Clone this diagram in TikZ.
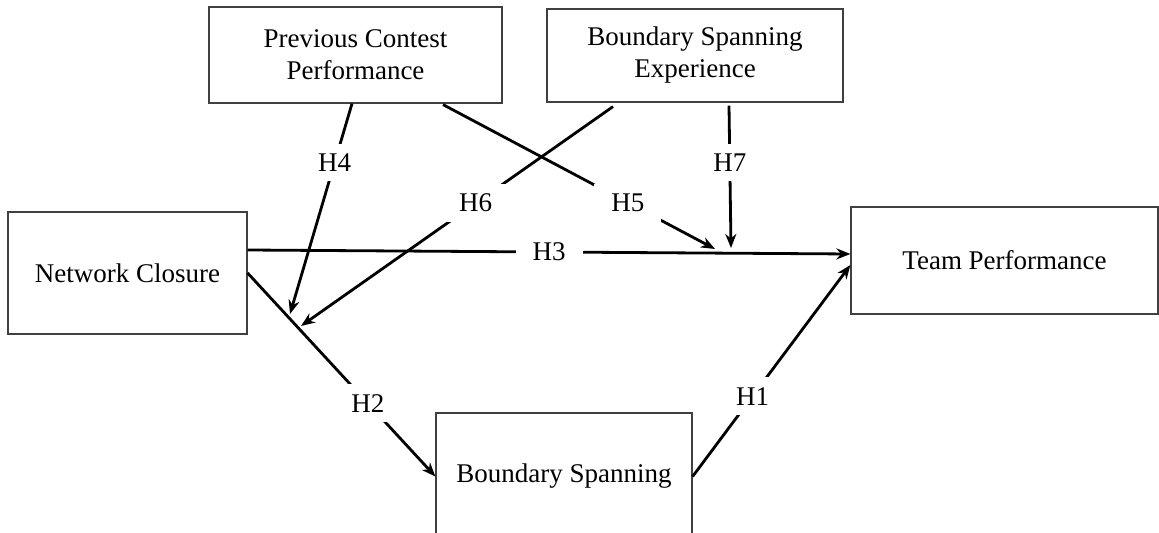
\documentclass[tikz,border=0pt]{standalone}
\usepackage{fontspec}
\setmainfont{Liberation Serif}
\usetikzlibrary{arrows.meta,calc}

\begin{document}
\begin{tikzpicture}[
    x=0.5pt, y=-0.5pt,
    box/.style={rectangle, draw=black!75, line width=0.6pt, fill=white, inner sep=0pt, align=center, font=\fontsize{13.5}{16}\selectfont},
    hyp/.style={rectangle, fill=white, inner xsep=8.5pt, inner ysep=5pt, font=\fontsize{13.5}{16}\selectfont},
    arrow/.style={-{Stealth[length=7pt,width=5.5pt]}, line width=1.4pt, black}
]
\useasboundingbox (0,0) rectangle (1159,533);
\clip (0,0) rectangle (1159,533);

% Moderators
\node[box, minimum width=146.5pt, minimum height=48pt] (pcp) at (355.5,55) {Previous Contest\\Performance};
\node[box, minimum width=148pt, minimum height=46.5pt] (bse) at (695,55.5) {Boundary Spanning\\Experience};

% Main constructs
\node[box, minimum width=119.5pt, minimum height=61pt] (nc) at (127.5,273) {Network Closure};
\node[box, minimum width=153.5pt, minimum height=53.5pt] (tp) at (1004.5,260.5) {Team Performance};
\node[box, minimum width=128pt, minimum height=63.5pt] (bs) at (564,476.5) {Boundary Spanning};

% Where the moderating arrows land
\coordinate (h4end) at (290,314);
\coordinate (h6end) at (301,326);
\coordinate (h5end) at (715,249);
\coordinate (h7end) at (731,248);

% Direct paths
\draw[arrow] ($(nc.east)+(0,-23)$) -- node[hyp] {H3} ($(tp.west)+(0,-6.5)$);
\draw[arrow] (nc.east) -- node[hyp, pos=0.64] {H2} (bs.west);
\draw[arrow] (bs.east) -- node[hyp, pos=0.38] {H1} ($(tp.west)+(0,4.5)$);

% Moderating paths
\draw[arrow] ($(pcp.south)+(-3.5,0)$) -- node[hyp, pos=0.28] {H4} (h4end);
\draw[arrow] ($(pcp.south)+(87.5,1)$) -- node[hyp, pos=0.68] {H5} (h5end);
\draw[arrow] ($(bse.south)+(-82,4)$) -- node[hyp, pos=0.44] {H6} (h6end);
\draw[arrow] ($(bse.south)+(34,3)$) -- node[hyp, pos=0.4] {H7} (h7end);
\end{tikzpicture}
\end{document}
